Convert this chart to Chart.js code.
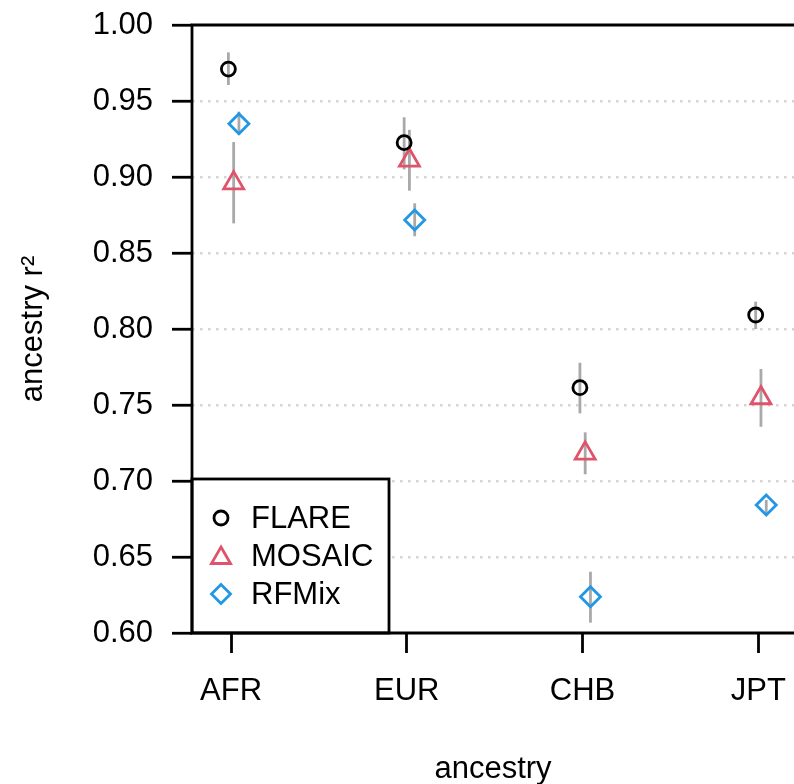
<!DOCTYPE html>
<html>
<head>
<meta charset="utf-8">
<script src="https://cdn.jsdelivr.net/npm/chart.js@4.4.1/dist/chart.umd.min.js"></script>
<style>
  html, body { margin: 0; padding: 0; background: #ffffff; }
  #wrap { width: 794px; height: 784px; }
</style>
</head>
<body>
<div id="wrap"><canvas id="c" width="794" height="784"></canvas></div>
<script>
// ---- data ----
const categories = ["AFR", "EUR", "CHB", "JPT"];
const seriesNames = ["FLARE", "MOSAIC", "RFMix"];
const yTickValues = [0.60, 0.65, 0.70, 0.75, 0.80, 0.85, 0.90, 0.95, 1.00];

const flareMean = [0.971, 0.9226, 0.7614, 0.8092];
const flareLow  = [0.9605, 0.905, 0.7445, 0.800];
const flareHigh = [0.982, 0.9393, 0.7778, 0.818];

const mosaicMean = [0.896, 0.911, 0.7182, 0.7546];
const mosaicLow  = [0.8695, 0.891, 0.7044, 0.7357];
const mosaicHigh = [0.923, 0.931, 0.732, 0.7737];

const rfmixMean = [0.935, 0.8717, 0.6239, 0.6842];
const rfmixLow  = [0.928, 0.861, 0.6068, 0.6789];
const rfmixHigh = [0.943, 0.8827, 0.6403, 0.6875];

// ---- styling ----
const FONT = "'Liberation Sans', Arial, Helvetica, sans-serif";
const FS = 31;
const DODGE = [-0.015, 0.015, 0.045];
const COLORS = ["#000000", "#DF536B", "#2297E6"];
const STYLES = ["circle", "triangle", "rectRot"];
const RADII = [7, 11.5, 10];
const ERR_COLOR = "#a9a9a9";

function pts(mean, k) {
  return mean.map((v, i) => ({ x: i + 1 + DODGE[k], y: v }));
}
const means = [flareMean, mosaicMean, rfmixMean];
const lows = [flareLow, mosaicLow, rfmixLow];
const highs = [flareHigh, mosaicHigh, rfmixHigh];

const datasets = seriesNames.map((name, k) => ({
  label: name,
  data: pts(means[k], k),
  showLine: false,
  pointStyle: STYLES[k],
  pointRadius: RADII[k],
  pointHoverRadius: RADII[k],
  pointBorderWidth: 2.8,
  pointBorderColor: COLORS[k],
  pointBackgroundColor: "rgba(0,0,0,0)",
  borderColor: COLORS[k],
  backgroundColor: "rgba(0,0,0,0)",
  clip: false,
  lows: lows[k],
  highs: highs[k]
}));

const errorBars = {
  id: "errorBars",
  beforeDatasetsDraw(chart) {
    const ctx = chart.ctx;
    const y = chart.scales.y;
    ctx.save();
    ctx.strokeStyle = ERR_COLOR;
    ctx.lineWidth = 2.8;
    chart.data.datasets.forEach((ds, k) => {
      const meta = chart.getDatasetMeta(k);
      meta.data.forEach((pt, i) => {
        ctx.beginPath();
        ctx.moveTo(pt.x, y.getPixelForValue(ds.lows[i]));
        ctx.lineTo(pt.x, y.getPixelForValue(ds.highs[i]));
        ctx.stroke();
      });
    });
    ctx.restore();
  }
};

function drawMarker(ctx, style, x, y, r, color) {
  ctx.save();
  ctx.strokeStyle = color;
  ctx.lineWidth = 2.8;
  ctx.beginPath();
  if (style === "circle") {
    ctx.arc(x, y, r, 0, Math.PI * 2);
  } else if (style === "triangle") {
    ctx.moveTo(x, y - r);
    ctx.lineTo(x + r * Math.sqrt(3) / 2, y + r / 2);
    ctx.lineTo(x - r * Math.sqrt(3) / 2, y + r / 2);
    ctx.closePath();
  } else {
    ctx.moveTo(x - r, y);
    ctx.lineTo(x, y - r);
    ctx.lineTo(x + r, y);
    ctx.lineTo(x, y + r);
    ctx.closePath();
  }
  ctx.stroke();
  ctx.restore();
}

const frameAndLegend = {
  id: "frameAndLegend",
  afterDraw(chart) {
    const ctx = chart.ctx;
    const a = chart.chartArea;
    const W = chart.width;
    // legend box (bottom-left, inside plot)
    const bx0 = a.left, bx1 = a.left + 197, by0 = a.bottom - 154, by1 = a.bottom;
    ctx.save();
    ctx.fillStyle = "#ffffff";
    ctx.fillRect(bx0, by0, bx1 - bx0, by1 - by0);
    ctx.strokeStyle = "#000000";
    ctx.lineWidth = 2.8;
    ctx.strokeRect(bx0, by0, bx1 - bx0, by1 - by0);
    ctx.font = FS + "px " + FONT;
    ctx.fillStyle = "#000000";
    ctx.textBaseline = "middle";
    ctx.textAlign = "left";
    chart.data.datasets.forEach((ds, k) => {
      const ry = by0 + 39 + k * 38;
      const rr = k === 0 ? 7 : (k === 1 ? 11 : 9.5);
      drawMarker(ctx, STYLES[k], bx0 + 29, ry + (k === 1 ? 2 : 0), rr, COLORS[k]);
      ctx.fillText(ds.label, bx0 + 59, ry + 1);
    });
    // frame: left, top, bottom (right edge beyond canvas)
    ctx.beginPath();
    ctx.lineWidth = 2.8;
    ctx.moveTo(W + 2, a.top);
    ctx.lineTo(a.left, a.top);
    ctx.lineTo(a.left, a.bottom);
    ctx.lineTo(W + 2, a.bottom);
    ctx.stroke();
    ctx.restore();
  }
};

new Chart(document.getElementById("c"), {
  type: "scatter",
  data: { datasets },
  options: {
    responsive: false,
    animation: false,
    devicePixelRatio: 1,
    layout: { autoPadding: false, padding: { top: 25, right: 0, bottom: 0, left: 0 } },
    plugins: {
      legend: { display: false },
      tooltip: { enabled: false }
    },
    scales: {
      x: {
        type: "linear",
        min: 0.778,
        max: 4.203,
        afterBuildTicks(scale) {
          scale.ticks = categories.map((c, i) => ({ value: i + 1 }));
        },
        afterFit(scale) {
          scale.height = 151;
          scale.paddingLeft = 0;
          scale.paddingRight = 0;
        },
        ticks: {
          autoSkip: false,
          maxRotation: 0,
          padding: 20,
          color: "#000000",
          font: { family: FONT, size: FS },
          callback: (v) => categories[Math.round(v) - 1]
        },
        grid: {
          drawOnChartArea: false,
          drawTicks: true,
          tickLength: 20,
          tickColor: "#000000",
          tickWidth: 2.8,
          color: "rgba(0,0,0,0)"
        },
        border: { display: false },
        title: {
          display: true,
          text: "ancestry",
          color: "#000000",
          font: { family: FONT, size: FS, lineHeight: 0.95 },
          padding: { top: 0, bottom: 0 }
        }
      },
      y: {
        type: "linear",
        min: 0.60,
        max: 1.00,
        afterBuildTicks(scale) {
          scale.ticks = yTickValues.map(v => ({ value: v }));
        },
        afterFit(scale) {
          scale.width = 192;
          scale.paddingTop = 0;
          scale.paddingBottom = 0;
        },
        ticks: {
          autoSkip: false,
          padding: 19,
          color: "#000000",
          font: { family: FONT, size: FS },
          callback: (v) => Number(v).toFixed(2)
        },
        grid: {
          drawTicks: true,
          tickLength: 20,
          tickColor: "#000000",
          tickWidth: 2.8,
          lineWidth: 2.5,
          borderDash: [2.5, 5.5],
          color: (c) => {
            const v = c.tick ? c.tick.value : null;
            if (v === null || Math.abs(v - 0.6) < 1e-6 || Math.abs(v - 1.0) < 1e-6) return "rgba(0,0,0,0)";
            return "#d3d3d3";
          }
        },
        border: { display: false, dash: [2.5, 5.5] },
        title: {
          display: true,
          text: "ancestry r²",
          color: "#000000",
          font: { family: FONT, size: FS },
          padding: { top: 15, bottom: 0 }
        }
      }
    }
  },
  plugins: [errorBars, frameAndLegend]
});
</script>
</body>
</html>
